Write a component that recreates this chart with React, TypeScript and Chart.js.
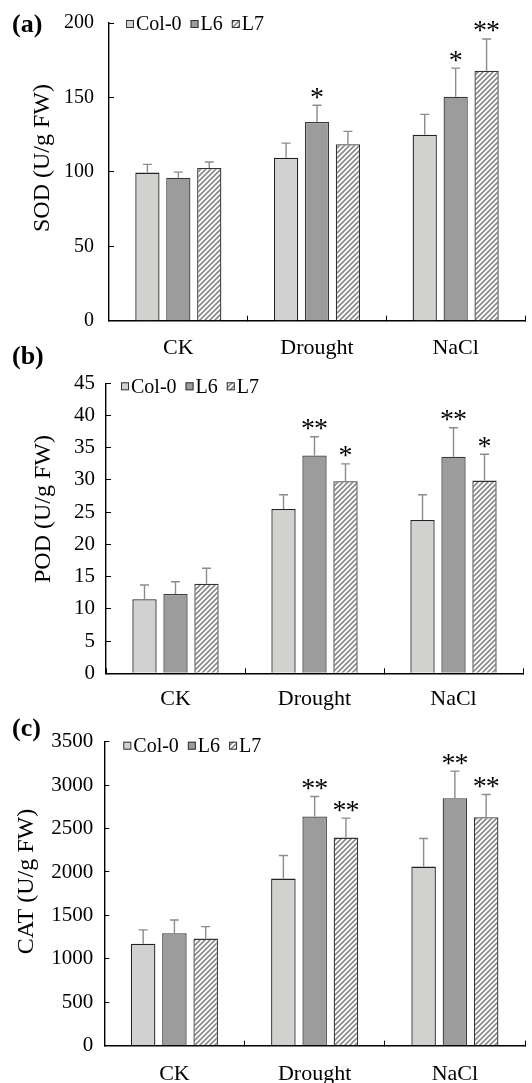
import React, { useEffect, useRef } from "react";
import { Chart, registerables } from "chart.js";

Chart.register(...registerables);

const FONT = "'Liberation Serif', 'Times New Roman', serif";

const categories = ["CK", "Drought", "NaCl"];
const seriesNames = ["Col-0", "L6", "L7"];

// (a) SOD
const sodTicks = [0, 50, 100, 150, 200];
const sodCol0 = [99.5, 109.5, 125];
const sodL6 = [96, 133.5, 150.5];
const sodL7 = [102.6, 118.5, 168];
const sodErrCol0 = [5.5, 9.8, 13.6];
const sodErrL6 = [3.8, 11.2, 19.2];
const sodErrL7 = [4, 8.7, 21.3];
const sodSigCol0 = ["", "", ""];
const sodSigL6 = ["", "*", "*"];
const sodSigL7 = ["", "", "**"];

// (b) POD
const podTicks = [0, 5, 10, 15, 20, 25, 30, 35, 40, 45];
const podCol0 = [11.5, 25.5, 23.8];
const podL6 = [12.3, 33.8, 33.6];
const podL7 = [13.9, 29.8, 29.9];
const podErrCol0 = [2.2, 2.2, 3.9];
const podErrL6 = [1.9, 2.9, 4.5];
const podErrL7 = [2.4, 2.7, 4.1];
const podSigCol0 = ["", "", ""];
const podSigL6 = ["", "**", "**"];
const podSigL7 = ["", "*", "*"];

// (c) CAT
const catTicks = [0, 500, 1000, 1500, 2000, 2500, 3000, 3500];
const catCol0 = [1175, 1924, 2062];
const catL6 = [1295, 2638, 2850];
const catL7 = [1233, 2396, 2631];
const catErrCol0 = [158, 265, 323];
const catErrL6 = [153, 231, 311];
const catErrL7 = [138, 224, 261];
const catSigCol0 = ["", "", ""];
const catSigL6 = ["", "**", "**"];
const catSigL7 = ["", "**", "**"];

type PanelSpec = {
  letter: string;
  yTitle: string;
  ticks: number[];
  values: number[][];
  errors: number[][];
  sigs: string[][];
  top: number;
  height: number;
  area: { l: number; r: number; t: number; b: number };
  tickFont: number;
  tickPad: number;
  xPad: number;
  legendX: number;
  legendDY: number;
  titlePos: [number, number];
  letterY: number;
};

const panels: PanelSpec[] = [
  {
    letter: "(a)",
    yTitle: "SOD (U/g FW)",
    ticks: sodTicks,
    values: [sodCol0, sodL6, sodL7],
    errors: [sodErrCol0, sodErrL6, sodErrL7],
    sigs: [sodSigCol0, sodSigL6, sodSigL7],
    top: 0,
    height: 360,
    area: { l: 109, r: 525, t: 23, b: 320.7 },
    tickFont: 20,
    tickPad: 20,
    xPad: 19,
    legendX: 17,
    legendDY: 1,
    titlePos: [43, 158],
    letterY: 25,
  },
  {
    letter: "(b)",
    yTitle: "POD (U/g FW)",
    ticks: podTicks,
    values: [podCol0, podL6, podL7],
    errors: [podErrCol0, podErrL6, podErrL7],
    sigs: [podSigCol0, podSigL6, podSigL7],
    top: 340,
    height: 370,
    area: { l: 106, r: 523, t: 43.3, b: 333.3 },
    tickFont: 21,
    tickPad: 16,
    xPad: 18,
    legendX: 15,
    legendDY: 3,
    titlePos: [44, 169],
    letterY: 17,
  },
  {
    letter: "(c)",
    yTitle: "CAT (U/g FW)",
    ticks: catTicks,
    values: [catCol0, catL6, catL7],
    errors: [catErrCol0, catErrL6, catErrL7],
    sigs: [catSigCol0, catSigL6, catSigL7],
    top: 700,
    height: 383,
    area: { l: 104.3, r: 525, t: 41.7, b: 345.7 },
    tickFont: 21,
    tickPad: 16,
    xPad: 20,
    legendX: 19,
    legendDY: 4,
    titlePos: [27, 181.5],
    letterY: 29,
  },
];

function makeHatch(): CanvasPattern | string {
  const c = document.createElement("canvas");
  const s = 5;
  c.width = s;
  c.height = s;
  const g = c.getContext("2d");
  if (!g) return "#ccc";
  g.fillStyle = "#ffffff";
  g.fillRect(0, 0, s, s);
  g.strokeStyle = "#8a8a8a";
  g.lineWidth = 1.7;
  g.beginPath();
  g.moveTo(0, s);
  g.lineTo(s, 0);
  g.moveTo(-s, s);
  g.lineTo(s, -s);
  g.moveTo(0, 2 * s);
  g.lineTo(2 * s, 0);
  g.stroke();
  const p = g.createPattern(c, "repeat");
  return p || "#ccc";
}

function Panel({ spec }: { spec: PanelSpec }) {
  const ref = useRef<HTMLCanvasElement | null>(null);
  useEffect(() => {
    const canvas = ref.current;
    if (!canvas) return;
    const hatch = makeHatch();
    const fills = ["#d1d2d0", "#9c9c9c", hatch];
    const borders = ["#222222", "#3a3a3a", "#333333"];
    const { area } = spec;
    const yMax = spec.ticks[spec.ticks.length - 1];
    const yStep = spec.ticks[1] - spec.ticks[0];

    const overlay = {
      id: "overlay",
      afterDatasetsDraw(chart: any) {
        const ctx = chart.ctx as CanvasRenderingContext2D;
        const yScale = chart.scales.y;
        ctx.save();
        chart.data.datasets.forEach((ds: any, i: number) => {
          const meta = chart.getDatasetMeta(i);
          meta.data.forEach((el: any, j: number) => {
            const v = ds.data[j];
            const e = ds.errors[j];
            const yTop = el.y;
            const yErr = yScale.getPixelForValue(v + e);
            ctx.strokeStyle = "#8c8c8c";
            ctx.lineWidth = 1.4;
            ctx.beginPath();
            ctx.moveTo(el.x, yTop);
            ctx.lineTo(el.x, yErr);
            ctx.moveTo(el.x - 4.5, yErr);
            ctx.lineTo(el.x + 4.5, yErr);
            ctx.stroke();
            const s: string = ds.sigs[j];
            if (s) {
              ctx.fillStyle = "#000";
              ctx.font = `28px ${FONT}`;
              ctx.textAlign = "center";
              ctx.textBaseline = "alphabetic";
              const m = ctx.measureText("*");
              const cy = yErr - 12;
              const by = cy + (m.actualBoundingBoxAscent - m.actualBoundingBoxDescent) / 2;
              const n = s.length;
              const gap = 13;
              for (let k = 0; k < n; k++) {
                const sx = el.x + (k - (n - 1) / 2) * gap;
                ctx.fillText("*", sx, by);
              }
            }
          });
        });
        ctx.restore();
      },
      afterDraw(chart: any) {
        const ctx = chart.ctx as CanvasRenderingContext2D;
        ctx.save();
        // legend
        let x = area.l + spec.legendX;
        const cy = area.t + spec.legendDY;
        ctx.font = `20px ${FONT}`;
        ctx.textBaseline = "middle";
        ctx.textAlign = "left";
        chart.data.datasets.forEach((ds: any) => {
          ctx.fillStyle = ds.backgroundColor;
          ctx.fillRect(x, cy - 4, 8, 8);
          ctx.strokeStyle = "#333";
          ctx.lineWidth = 1;
          ctx.strokeRect(x + 0.5, cy - 3.5, 7, 7);
          x += 10;
          ctx.fillStyle = "#000";
          ctx.fillText(ds.label, x, cy + 1);
          x += ctx.measureText(ds.label).width + 9;
        });
        // y title
        ctx.save();
        ctx.translate(spec.titlePos[0], spec.titlePos[1]);
        ctx.rotate(-Math.PI / 2);
        ctx.font = `24px ${FONT}`;
        ctx.textAlign = "center";
        ctx.textBaseline = "middle";
        ctx.fillStyle = "#000";
        ctx.fillText(spec.yTitle, 0, 0);
        ctx.restore();
        // panel letter
        ctx.font = `bold 26px ${FONT}`;
        ctx.textAlign = "left";
        ctx.textBaseline = "middle";
        ctx.fillStyle = "#000";
        ctx.fillText(spec.letter, 12, spec.letterY);
        ctx.restore();
      },
    };

    const chart = new Chart(canvas, {
      type: "bar",
      data: {
        labels: categories,
        datasets: seriesNames.map((name, i) => ({
          label: name,
          data: spec.values[i],
          errors: spec.errors[i],
          sigs: spec.sigs[i],
          backgroundColor: fills[i],
          borderColor: borders[i],
          borderWidth: 1.3,
          categoryPercentage: 0.669,
          barPercentage: 0.784,
        })) as any,
      },
      options: {
        animation: false,
        responsive: false,
        devicePixelRatio: 1,
        layout: {
          padding: { left: 0, top: area.t, right: 532 - area.r, bottom: 0 },
        },
        plugins: {
          legend: { display: false },
          tooltip: { enabled: false },
          title: { display: false },
        },
        scales: {
          x: {
            type: "category",
            offset: true,
            grid: {
              display: true,
              offset: true,
              drawOnChartArea: false,
              drawTicks: true,
              tickLength: -5,
              color: "#000",
              lineWidth: 1,
            },
            border: { display: true, color: "#000", width: 1.4 },
            ticks: {
              color: "#000",
              font: { family: FONT, size: 22 },
              padding: spec.xPad,
              maxRotation: 0,
              autoSkip: false,
            },
            afterFit(scale: any) {
              scale.height = spec.height - area.b;
              scale.paddingLeft = 0;
              scale.paddingRight = 0;
            },
          } as any,
          y: {
            type: "linear",
            min: 0,
            max: yMax,
            grid: {
              display: true,
              drawOnChartArea: false,
              drawTicks: true,
              tickLength: -5,
              color: "#000",
              lineWidth: 1,
            },
            border: { display: true, color: "#000", width: 1.4 },
            ticks: {
              stepSize: yStep,
              color: "#000",
              font: { family: FONT, size: spec.tickFont },
              padding: spec.tickPad,
              callback: (v: any) => String(v),
            },
            afterFit(scale: any) {
              scale.width = area.l;
              scale.paddingTop = 0;
              scale.paddingBottom = 0;
            },
          } as any,
        },
      },
      plugins: [overlay],
    });
    return () => chart.destroy();
  }, [spec]);

  return (
    <canvas
      ref={ref}
      width={532}
      height={spec.height}
      style={{
        position: "absolute",
        left: 0,
        top: spec.top,
        width: 532,
        height: spec.height,
        display: "block",
      }}
    />
  );
}

export default function App() {
  return (
    <div
      style={{
        position: "absolute",
        left: 0,
        top: 0,
        width: 532,
        height: 1083,
        background: "#fff",
        overflow: "hidden",
      }}
    >
      {panels.map((p) => (
        <Panel key={p.letter} spec={p} />
      ))}
    </div>
  );
}
